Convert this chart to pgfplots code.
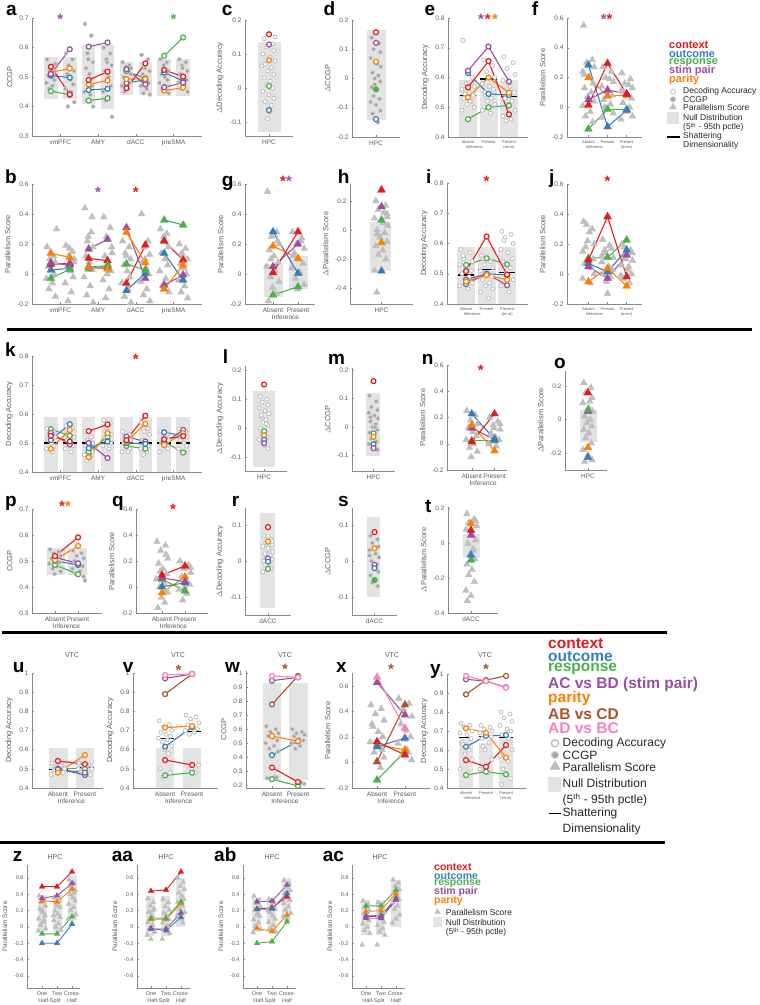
\documentclass[border=0pt]{standalone}
\usepackage{fontspec}
\setmainfont{Liberation Sans}
\setsansfont{Liberation Sans}
\usepackage{pgfplots}
\pgfplotsset{compat=1.18}
\definecolor{cR}{HTML}{E41A1C}
\definecolor{cB}{HTML}{377EB8}
\definecolor{cG}{HTML}{4DAF4A}
\definecolor{cP}{HTML}{984EA3}
\definecolor{cO}{HTML}{FF7F00}
\definecolor{cBr}{HTML}{A65628}
\definecolor{cPk}{HTML}{F781BF}
\definecolor{ngray}{HTML}{BEBEBE}
\definecolor{dgray}{HTML}{8C8C8C}
\definecolor{boxgray}{HTML}{E3E3E3}
\definecolor{axgray}{HTML}{8A8A8A}
\definecolor{lbgray}{HTML}{5A5A5A}

\pgfplotsset{
  pan/.style={scale only axis, anchor=south west, clip=false, axis lines*=left,
    axis line style={axgray, line width=0.6pt}, tick style={axgray, line width=0.5pt},
    tick align=inside, major tick length=2pt,
    tick label style={font=\fontsize{6.5}{7}\selectfont, text=lbgray},
    ylabel style={font=\fontsize{7.5}{8}\selectfont, text=lbgray},
    /pgf/number format/assume math mode=true,
    yticklabel style={/pgf/number format/fixed, /pgf/number format/precision=2},
    unbounded coords=jump},
  small/.style={tick label style={font=\fontsize{5.5}{6}\selectfont, text=lbgray},
    ylabel style={font=\fontsize{6.5}{7}\selectfont, text=lbgray}},
  tiny/.style={xticklabel style={font=\fontsize{4}{4}\selectfont, text=lbgray}},
  ring/.style={line width=1.1pt, mark=*, mark size=2.5pt, mark options={fill=white, line width=1.2pt}},
  tri/.style={line width=1.1pt, mark=triangle*, mark size=4.6pt, mark options={line width=0.2pt}},
  stri/.style={line width=0.9pt, mark=triangle*, mark size=3.3pt, mark options={line width=0.2pt}},
  nc/.style={only marks, mark=*, mark size=2pt, mark options={draw=ngray, fill=white, line width=0.8pt}},
  nd/.style={only marks, mark=*, mark size=2pt, mark options={draw=ngray!70, fill=dgray!80, line width=0.7pt}},
  nt/.style={only marks, mark=triangle*, mark size=4pt, mark options={draw=ngray, fill=ngray, line width=0.2pt}},
  snt/.style={only marks, mark=triangle*, mark size=3pt, mark options={draw=ngray, fill=ngray, line width=0.2pt}},
  nbox/.style={fill=boxgray, draw=none},
  shat/.style={black, line width=1.1pt},
}
\newcommand{\Nb}[4]{\addplot[nbox] coordinates {(#1,#3)(#2,#3)(#2,#4)(#1,#4)};}
\newcommand{\Sh}[3]{\addplot[shat] coordinates {(#1,#3)(#2,#3)};}
\newcommand{\Star}[3]{\node[text=#1, font=\bfseries\fontsize{15}{15}\selectfont, inner sep=0pt, yshift=-3pt] at (axis cs:#2,#3) {*};}
\newcommand{\SecL}[3]{\node[anchor=north, font=\fontsize{6.5}{7}\selectfont, text=lbgray, inner sep=0pt, yshift=-11pt] at (axis cs:#1,#2) {#3};}
\newcommand{\TinyL}[3]{\node[anchor=north, font=\fontsize{4}{4}\selectfont, text=lbgray, inner sep=0pt, yshift=-8pt] at (axis cs:#1,#2) {#3};}
\newcommand{\SmL}[3]{\node[anchor=north, font=\fontsize{5.5}{6}\selectfont, text=lbgray, inner sep=0pt, yshift=-10pt] at (axis cs:#1,#2) {#3};}

\begin{document}
\begin{tikzpicture}
\path[use as bounding box] (0,0) rectangle (760pt,-1005pt);

%% ---------------- a ----------------
\begin{axis}[pan, at={(32pt,-136pt)}, width=170pt, height=118pt,
  xmin=0.25, xmax=4.75, ymin=0.3, ymax=0.7, ytick={0.3,0.4,0.5,0.6,0.7},
  xtick={1,2,3,4}, xticklabels={vmPFC,AMY,dACC,preSMA}, ylabel={CCGP}]
\Nb{0.57}{0.93}{0.424}{0.569}\Nb{1.07}{1.43}{0.424}{0.569}
\Nb{1.57}{1.93}{0.41}{0.608}\Nb{2.07}{2.43}{0.39}{0.608}
\Nb{2.57}{2.93}{0.439}{0.552}\Nb{3.07}{3.43}{0.439}{0.552}
\Nb{3.57}{3.93}{0.436}{0.56}\Nb{4.07}{4.43}{0.436}{0.56}
\addplot[nd] coordinates {
(0.65,0.56)(0.82,0.54)(0.72,0.53)(0.86,0.52)(0.68,0.505)(0.77,0.50)(0.84,0.49)(0.63,0.48)(0.79,0.47)(0.70,0.46)(0.87,0.545)(0.74,0.515)
(1.15,0.58)(1.32,0.56)(1.22,0.54)(1.36,0.52)(1.18,0.51)(1.27,0.49)(1.34,0.475)(1.13,0.46)(1.29,0.45)(1.20,0.40)(1.37,0.415)(1.24,0.53)
(1.65,0.68)(1.82,0.64)(1.72,0.58)(1.86,0.55)(1.68,0.53)(1.77,0.51)(1.84,0.47)(1.63,0.45)(1.79,0.44)(1.70,0.42)(1.87,0.40)(1.74,0.56)
(2.15,0.60)(2.32,0.58)(2.22,0.56)(2.36,0.54)(2.18,0.52)(2.27,0.50)(2.34,0.47)(2.13,0.45)(2.29,0.43)(2.20,0.42)(2.37,0.365)(2.24,0.55)
(2.65,0.55)(2.82,0.54)(2.72,0.52)(2.86,0.51)(2.68,0.50)(2.77,0.49)(2.84,0.48)(2.63,0.47)(2.79,0.46)(2.70,0.45)(2.87,0.53)(2.74,0.535)
(3.15,0.575)(3.32,0.56)(3.22,0.54)(3.36,0.52)(3.18,0.51)(3.27,0.50)(3.34,0.48)(3.13,0.47)(3.29,0.46)(3.20,0.445)(3.37,0.44)(3.24,0.53)
(3.65,0.56)(3.82,0.55)(3.72,0.53)(3.86,0.52)(3.68,0.51)(3.77,0.50)(3.84,0.49)(3.63,0.48)(3.79,0.47)(3.70,0.46)(3.87,0.445)(3.74,0.54)
(4.15,0.56)(4.32,0.55)(4.22,0.54)(4.36,0.52)(4.18,0.51)(4.27,0.50)(4.34,0.49)(4.13,0.48)(4.29,0.47)(4.20,0.46)(4.37,0.45)(4.24,0.53)};
\addplot[cG, ring] coordinates {(0.75,0.452)(1.25,0.44)(1.5,nan)(1.75,0.42)(2.25,0.428)(2.5,nan)(2.75,0.52)(3.25,0.495)(3.5,nan)(3.75,0.572)(4.25,0.634)};
\addplot[cB, ring] coordinates {(0.75,0.505)(1.25,0.498)(1.5,nan)(1.75,0.456)(2.25,0.46)(2.5,nan)(2.75,0.48)(3.25,0.49)(3.5,nan)(3.75,0.515)(4.25,0.487)};
\addplot[cO, ring] coordinates {(0.75,0.515)(1.25,0.529)(1.5,nan)(1.75,0.475)(2.25,0.488)(2.5,nan)(2.75,0.493)(3.25,0.493)(3.5,nan)(3.75,0.454)(4.25,0.464)};
\addplot[cR, ring] coordinates {(0.75,0.535)(1.25,0.441)(1.5,nan)(1.75,0.49)(2.25,0.518)(2.5,nan)(2.75,0.462)(3.25,0.546)(3.5,nan)(3.75,0.524)(4.25,0.501)};
\addplot[cP, ring] coordinates {(0.75,0.51)(1.25,0.594)(1.5,nan)(1.75,0.603)(2.25,0.617)(2.5,nan)(2.75,0.526)(3.25,0.475)(3.5,nan)(3.75,0.465)(4.25,0.481)};
\Star{cP}{1}{0.705}\Star{cG}{4}{0.705}
\end{axis}

%% ---------------- c ----------------
\begin{axis}[pan, at={(245pt,-136pt)}, width=48pt, height=116pt,
  xmin=0, xmax=2, ymin=-0.141, ymax=0.2, ytick={-0.1,0,0.1,0.2},
  xtick={1}, xticklabels={HPC}, ylabel={$\Delta$Decoding Accuracy}]
\Nb{0.55}{1.5}{-0.128}{0.136}
\addplot[nc] coordinates {(0.8,0.145)(1.15,0.13)(0.9,0.12)(1.2,0.11)(0.75,0.1)(1.05,0.09)(1.25,0.08)(0.85,0.07)(1.1,0.06)(0.95,0.05)(1.2,0.04)(0.8,0.03)(1.05,0.02)(0.9,0.01)(1.15,0.0)(0.75,-0.01)(1.0,-0.02)(1.2,-0.03)(0.85,-0.04)(1.1,-0.05)(1.05,-0.07)(0.95,-0.09)(1.25,0.15)(0.7,0.065)};
\addplot[cR, ring, only marks] coordinates {(1,0.158)};
\addplot[cP, ring, only marks] coordinates {(1,0.128)};
\addplot[cO, ring, only marks] coordinates {(1,0.082)};
\addplot[cG, ring, only marks] coordinates {(1,0.006)};
\addplot[cB, ring, only marks] coordinates {(1,-0.065)};
\end{axis}

%% ---------------- d ----------------
\begin{axis}[pan, at={(352pt,-137pt)}, width=48pt, height=117pt,
  xmin=0, xmax=2, ymin=-0.2, ymax=0.2, ytick={-0.2,-0.1,0,0.1,0.2},
  xtick={1}, xticklabels={HPC}, ylabel={$\Delta$CCGP}]
\Nb{0.625}{1.42}{-0.142}{0.166}
\addplot[nd] coordinates {(0.82,0.14)(1.13,0.12)(0.9,0.1)(1.18,0.09)(0.78,0.07)(1.05,0.05)(1.2,0.04)(0.86,0.02)(1.1,0.01)(0.95,0.0)(1.17,-0.01)(0.82,-0.03)(1.04,-0.04)(0.9,-0.06)(1.14,-0.07)(0.78,-0.08)(1.0,-0.09)(1.18,-0.11)(0.86,-0.12)(1.08,-0.15)(1.03,0.06)(0.95,-0.02)};
\addplot[cR, ring, only marks] coordinates {(1,0.158)};
\addplot[cP, ring, only marks] coordinates {(1,0.122)};
\addplot[cO, ring, only marks] coordinates {(1,0.057)};
\addplot[cG, ring, only marks, mark options={fill=cG}] coordinates {(1,-0.037)};
\addplot[cB, ring, only marks] coordinates {(1,-0.139)};
\end{axis}

%% ---------------- e ----------------
\begin{axis}[pan, tiny, at={(448pt,-137pt)}, width=80pt, height=119pt,
  xmin=0.02, xmax=3.93, ymin=0.4, ymax=0.8, ytick={0.4,0.5,0.6,0.7,0.8},
  xtick={1,2,3}, xticklabels={Absent,Present,Present}, ylabel={Decoding Accuracy}]
\Nb{0.56}{1.44}{0.4}{0.592}\Nb{1.56}{2.44}{0.4}{0.595}\Nb{2.56}{3.44}{0.4}{0.592}
\addplot[nc] coordinates {
(0.75,0.725)(1.2,0.6)(0.9,0.58)(1.3,0.57)(0.7,0.56)(1.05,0.55)(1.25,0.54)(0.8,0.53)(1.15,0.52)(0.95,0.51)(1.3,0.5)(0.7,0.49)(1.1,0.52)(0.85,0.545)
(1.75,0.66)(2.2,0.64)(1.9,0.62)(2.3,0.6)(1.7,0.58)(2.05,0.57)(2.25,0.56)(1.8,0.55)(2.15,0.53)(1.95,0.52)(2.3,0.51)(1.7,0.49)(2.1,0.48)(1.85,0.54)
(2.75,0.67)(3.2,0.65)(2.9,0.63)(3.3,0.61)(2.7,0.59)(3.05,0.57)(3.25,0.55)(2.8,0.53)(3.15,0.52)(2.95,0.51)(3.3,0.49)(2.7,0.47)(3.1,0.46)(2.85,0.455)};
\Sh{0.6}{1.4}{0.541}\Sh{1.6}{2.4}{0.595}\Sh{2.6}{3.4}{0.535}
\addplot[cG, ring] coordinates {(1,0.46)(2,0.5)(3,0.506)};
\addplot[cB, ring] coordinates {(1,0.615)(2,0.545)(3,0.541)};
\addplot[cO, ring] coordinates {(1,0.533)(2,0.6)(3,0.549)};
\addplot[cR, ring] coordinates {(1,0.567)(2,0.655)(3,0.476)};
\addplot[cP, ring] coordinates {(1,0.623)(2,0.704)(3,0.586)};
\Star{cP}{1.63}{0.806}\Star{cR}{1.97}{0.806}\Star{cO}{2.32}{0.806}
\TinyL{1.3}{0.4}{Inference}\TinyL{3}{0.4}{(error)}
\end{axis}

%% ---------------- f ----------------
\begin{axis}[pan, tiny, at={(567pt,-137pt)}, width=75pt, height=119pt,
  xmin=-0.12, xmax=3.8, ymin=-0.2, ymax=0.6, ytick={-0.2,0,0.2,0.4,0.6},
  xtick={1,2,3}, xticklabels={Absent,Present,Present}, ylabel={Parallelism Score}]
\addplot[nt] coordinates {
(0.75,0.55)(1.2,0.32)(0.9,0.3)(1.3,0.27)(0.7,0.24)(1.05,0.2)(1.25,0.16)(0.8,0.13)(1.15,0.1)(0.95,0.07)(1.3,0.04)(0.7,0.01)(1.1,-0.03)(0.85,-0.06)(1.22,-0.1)(0.78,0.22)
(1.75,0.27)(2.2,0.24)(1.9,0.2)(2.3,0.17)(1.7,0.14)(2.05,0.11)(2.25,0.08)(1.8,0.05)(2.15,0.02)(1.95,-0.01)(2.3,-0.04)(1.7,-0.07)(2.1,0.19)(1.85,0.0)
(2.75,0.23)(3.2,0.19)(2.9,0.16)(3.3,0.13)(2.7,0.11)(3.05,0.08)(3.25,0.06)(2.8,0.03)(3.15,0.0)(2.95,-0.03)(3.3,-0.06)(2.7,-0.08)(3.1,0.15)(2.85,0.1)};
\addplot[cG, tri] coordinates {(1,-0.146)(2,-0.014)(3,-0.015)};
\addplot[cB, tri] coordinates {(1,0.284)(2,-0.131)(3,-0.02)};
\addplot[cO, tri] coordinates {(1,0.199)(2,0.076)(3,0.08)};
\addplot[cP, tri] coordinates {(1,0.051)(2,0.116)(3,0.089)};
\addplot[cR, tri] coordinates {(1,0.015)(2,0.295)(3,0.089)};
\Star{cP}{1.8}{0.613}\Star{cR}{2.1}{0.613}
\TinyL{1.3}{-0.2}{Inference}\TinyL{3}{-0.2}{(error)}
\end{axis}

%% ---------------- b ----------------
\begin{axis}[pan, at={(32pt,-304pt)}, width=170pt, height=120pt,
  xmin=0.25, xmax=4.75, ymin=-0.2, ymax=0.6, ytick={-0.2,0,0.2,0.4,0.6},
  xtick={1,2,3,4}, xticklabels={vmPFC,AMY,dACC,preSMA}, ylabel={Parallelism Score}]
\addplot[nt] coordinates {
(0.65,0.18)(0.82,0.12)(0.72,0.10)(0.86,0.08)(0.68,0.05)(0.77,0.03)(0.84,0.0)(0.63,-0.03)(0.79,-0.06)(0.70,-0.10)(0.87,-0.15)(0.74,0.14)(0.9,0.3)
(1.15,0.19)(1.32,0.15)(1.22,0.12)(1.36,0.08)(1.18,0.05)(1.27,0.02)(1.34,-0.02)(1.13,-0.06)(1.29,-0.12)(1.20,-0.18)(1.37,0.10)(1.24,0.17)
(1.65,0.44)(1.82,0.28)(1.72,0.22)(1.86,0.18)(1.68,0.12)(1.77,0.08)(1.84,0.03)(1.63,-0.02)(1.79,-0.08)(1.70,-0.14)(1.87,-0.19)(1.74,0.25)(1.84,0.38)
(2.15,0.38)(2.32,0.31)(2.22,0.25)(2.36,0.18)(2.18,0.12)(2.27,0.06)(2.34,0.02)(2.13,-0.04)(2.29,-0.10)(2.20,-0.16)(2.37,0.14)(2.24,0.0)
(2.65,0.22)(2.82,0.18)(2.72,0.14)(2.86,0.10)(2.68,0.06)(2.77,0.02)(2.84,-0.02)(2.63,-0.06)(2.79,-0.10)(2.70,-0.15)(2.87,-0.19)(2.74,0.12)
(3.15,0.40)(3.32,0.22)(3.22,0.18)(3.36,0.13)(3.18,0.08)(3.27,0.04)(3.34,0.0)(3.13,-0.05)(3.29,-0.10)(3.20,-0.14)(3.37,-0.18)(3.24,0.10)
(3.65,0.30)(3.82,0.27)(3.72,0.22)(3.86,0.18)(3.68,0.14)(3.77,0.10)(3.84,0.06)(3.63,0.02)(3.79,-0.03)(3.70,-0.08)(3.87,-0.12)(3.74,0.25)
(4.15,0.20)(4.32,0.17)(4.22,0.14)(4.36,0.10)(4.18,0.07)(4.27,0.04)(4.34,0.0)(4.13,-0.04)(4.29,-0.08)(4.20,-0.12)(4.37,-0.16)(4.24,0.12)};
\addplot[cB, tri] coordinates {(0.75,0.027)(1.25,0.038)(1.5,nan)(1.75,0.05)(2.25,0.045)(2.5,nan)(2.75,-0.11)(3.25,0.005)(3.5,nan)(3.75,0.138)(4.25,-0.04)};
\addplot[cR, tri] coordinates {(0.75,0.065)(1.25,0.07)(1.5,nan)(1.75,0.104)(2.25,0.089)(2.5,nan)(2.75,-0.062)(3.25,0.193)(3.5,nan)(3.75,0.22)(4.25,0.093)};
\addplot[cP, tri] coordinates {(0.75,0.075)(1.25,0.06)(1.5,nan)(1.75,0.167)(2.25,0.231)(2.5,nan)(2.75,0.309)(3.25,-0.029)(3.5,nan)(3.75,-0.073)(4.25,-0.007)};
\addplot[cG, tri] coordinates {(0.75,-0.029)(1.25,0.031)(1.5,nan)(1.75,0.033)(2.25,0.06)(2.5,nan)(2.75,0.067)(3.25,0.027)(3.5,nan)(3.75,0.36)(4.25,0.327)};
\addplot[cO, tri] coordinates {(0.75,0.138)(1.25,0.111)(1.5,nan)(1.75,0.044)(2.25,0.033)(2.5,nan)(2.75,0.278)(3.25,0.075)(3.5,nan)(3.75,-0.1)(4.25,0.06)};
\Star{cP}{2}{0.567}\Star{cR}{3}{0.567}
\end{axis}

%% ---------------- g ----------------
\begin{axis}[pan, at={(245pt,-304pt)}, width=70pt, height=120pt,
  xmin=-0.12, xmax=2.68, ymin=-0.2, ymax=0.6, ytick={-0.2,0,0.2,0.4,0.6},
  xtick={1,2}, xticklabels={Absent,Present}, ylabel={Parallelism Score}]
\Nb{0.62}{1.38}{-0.15}{0.07}\Nb{1.62}{2.38}{-0.1}{0.12}
\addplot[nt] coordinates {
(0.78,0.55)(1.15,0.28)(0.94,0.25)(1.25,0.2)(0.85,0.16)(1.04,0.12)(1.2,0.08)(0.75,0.05)(1.08,0.02)(0.9,-0.02)(1.24,-0.05)(0.98,-0.09)(1.12,-0.13)(0.82,-0.18)(1.18,0.22)(0.92,0.1)
(1.78,0.28)(2.15,0.24)(1.94,0.2)(2.25,0.17)(1.85,0.14)(2.04,0.1)(2.2,0.07)(1.75,0.04)(2.08,0.01)(1.9,-0.03)(2.24,-0.07)(1.98,-0.1)(2.12,0.22)(1.82,0.12)};
\addplot[cB, tri] coordinates {(1,0.282)(2,0.005)};
\addplot[cO, tri] coordinates {(1,0.187)(2,0.104)};
\addplot[cP, tri] coordinates {(1,0.049)(2,0.2)};
\addplot[cR, tri] coordinates {(1,0.009)(2,0.282)};
\addplot[cG, tri] coordinates {(1,-0.14)(2,-0.085)};
\Star{cR}{1.4}{0.64}\Star{cP}{1.64}{0.64}
\SecL{1.5}{-0.2}{Inference}
\end{axis}

%% ---------------- h ----------------
\begin{axis}[pan, at={(350pt,-304pt)}, width=63pt, height=120pt,
  xmin=0, xmax=2, ymin=-0.51, ymax=0.317, ytick={-0.4,-0.2,0,0.2},
  xtick={1}, xticklabels={HPC}, ylabel={$\Delta$Parallelism Score}]
\Nb{0.63}{1.3}{-0.28}{0.057}
\addplot[nt] coordinates {(0.82,0.2)(1.13,0.17)(0.9,0.14)(1.18,0.11)(0.78,0.08)(1.05,0.05)(1.2,0.03)(0.86,0.0)(1.1,-0.02)(0.95,-0.05)(1.17,-0.08)(0.82,-0.11)(1.04,-0.14)(0.9,-0.17)(1.14,-0.2)(0.78,-0.28)(0.85,-0.43)(1.18,0.09)(0.86,-0.03)(1.08,0.12)};
\addplot[cR, tri, only marks] coordinates {(1,0.276)};
\addplot[cP, tri, only marks] coordinates {(1,0.161)};
\addplot[cG, tri, only marks] coordinates {(1,0.069)};
\addplot[cO, tri, only marks] coordinates {(1,-0.088)};
\addplot[cB, tri, only marks] coordinates {(1,-0.283)};
\end{axis}

%% ---------------- i ----------------
\begin{axis}[pan, tiny, at={(447pt,-304pt)}, width=81pt, height=121pt,
  xmin=0.07, xmax=4.02, ymin=0.4, ymax=0.8, ytick={0.4,0.5,0.6,0.7,0.8},
  xtick={1,2,3}, xticklabels={Absent,Present,Present}, ylabel={Decoding Accuracy}]
\Nb{0.56}{1.44}{0.4}{0.587}\Nb{1.56}{2.44}{0.4}{0.587}\Nb{2.56}{3.44}{0.4}{0.587}
\addplot[nc] coordinates {
(0.75,0.58)(1.2,0.57)(0.9,0.55)(1.3,0.54)(0.7,0.53)(1.05,0.52)(1.25,0.51)(0.8,0.5)(1.15,0.49)(0.95,0.48)(1.3,0.47)(0.7,0.46)(1.1,0.45)(0.85,0.56)
(1.75,0.56)(2.2,0.54)(1.9,0.53)(2.3,0.52)(1.7,0.51)(2.05,0.5)(2.25,0.49)(1.8,0.48)(2.15,0.47)(1.95,0.46)(2.3,0.45)(1.7,0.44)(2.1,0.42)(1.85,0.55)
(2.75,0.64)(3.2,0.63)(2.9,0.62)(3.3,0.6)(2.7,0.58)(3.05,0.57)(3.25,0.55)(2.8,0.54)(3.15,0.52)(2.95,0.5)(3.3,0.48)(2.7,0.46)(3.1,0.44)(2.85,0.61)};
\Sh{0.6}{1.4}{0.496}\Sh{1.6}{2.4}{0.515}\Sh{2.6}{3.4}{0.505}
\addplot[cP, ring] coordinates {(1,0.48)(2,0.5)(3,0.462)};
\addplot[cB, ring] coordinates {(1,0.466)(2,0.5)(3,0.496)};
\addplot[cO, ring] coordinates {(1,0.474)(2,0.496)(3,0.48)};
\addplot[cG, ring] coordinates {(1,0.529)(2,0.551)(3,0.531)};
\addplot[cR, ring] coordinates {(1,0.509)(2,0.623)(3,0.497)};
\Star{cR}{2}{0.815}
\TinyL{1.3}{0.4}{Inference}\TinyL{3}{0.4}{(error)}
\end{axis}

%% ---------------- j ----------------
\begin{axis}[pan, tiny, at={(567pt,-304pt)}, width=75pt, height=120pt,
  xmin=-0.12, xmax=3.8, ymin=-0.2, ymax=0.6, ytick={-0.2,0,0.2,0.4,0.6},
  xtick={1,2,3}, xticklabels={Absent,Present,Present}, ylabel={Parallelism Score}]
\addplot[nt] coordinates {
(0.75,0.35)(1.2,0.3)(0.9,0.33)(1.3,0.2)(0.7,0.15)(1.05,0.28)(1.25,0.1)(0.8,0.07)(1.15,0.04)(0.95,0.22)(1.3,0.0)(0.7,-0.03)(1.1,-0.06)(0.85,0.18)
(1.75,0.23)(2.2,0.17)(1.9,0.14)(2.3,0.11)(1.7,0.08)(2.05,0.05)(2.25,0.03)(1.8,0.0)(2.15,-0.02)(1.95,-0.05)(2.0,-0.13)(1.7,0.12)(2.1,0.19)(1.85,0.16)
(2.75,0.2)(3.2,0.16)(2.9,0.12)(3.3,0.09)(2.7,0.06)(3.05,0.03)(3.25,0.0)(2.8,-0.03)(3.15,-0.06)(2.95,0.1)(3.3,0.14)(2.7,-0.01)(3.1,0.05)(2.85,0.18)};
\addplot[cB, tri] coordinates {(1,0.071)(2,0.015)(3,0.16)};
\addplot[cP, tri] coordinates {(1,0.049)(2,-0.029)(3,0.127)};
\addplot[cG, tri] coordinates {(1,0.105)(2,0.111)(3,0.227)};
\addplot[cO, tri] coordinates {(1,-0.051)(2,0.038)(3,-0.08)};
\addplot[cR, tri] coordinates {(1,0.093)(2,0.382)(3,-0.018)};
\Star{cR}{2}{0.638}
\TinyL{1.3}{-0.2}{Inference}\TinyL{3}{-0.2}{(error)}
\end{axis}

%% ---------------- k ----------------
\begin{axis}[pan, at={(32pt,-472pt)}, width=170pt, height=116pt,
  xmin=0.25, xmax=4.75, ymin=0.4, ymax=0.8, ytick={0.4,0.5,0.6,0.7,0.8},
  xtick={1,2,3,4}, xticklabels={vmPFC,AMY,dACC,preSMA}, ylabel={Decoding Accuracy}]
\Nb{0.57}{0.93}{0.4}{0.59}\Nb{1.07}{1.43}{0.4}{0.59}\Nb{1.57}{1.93}{0.4}{0.59}\Nb{2.07}{2.43}{0.4}{0.59}
\Nb{2.57}{2.93}{0.4}{0.59}\Nb{3.07}{3.43}{0.4}{0.59}\Nb{3.57}{3.93}{0.4}{0.59}\Nb{4.07}{4.43}{0.4}{0.59}
\addplot[nc] coordinates {
(0.65,0.55)(0.82,0.54)(0.72,0.53)(0.86,0.52)(0.68,0.51)(0.77,0.5)(0.84,0.49)(0.63,0.48)(0.79,0.47)(0.70,0.53)
(1.15,0.56)(1.32,0.55)(1.22,0.53)(1.36,0.52)(1.18,0.51)(1.27,0.5)(1.34,0.49)(1.13,0.48)(1.29,0.47)(1.20,0.52)
(1.65,0.54)(1.82,0.52)(1.72,0.51)(1.86,0.5)(1.68,0.49)(1.77,0.48)(1.84,0.47)(1.63,0.46)(1.79,0.45)(1.70,0.44)
(2.15,0.58)(2.32,0.57)(2.22,0.55)(2.36,0.53)(2.18,0.52)(2.27,0.51)(2.34,0.5)(2.13,0.49)(2.29,0.48)(2.20,0.54)
(2.65,0.54)(2.82,0.53)(2.72,0.52)(2.86,0.51)(2.68,0.5)(2.77,0.49)(2.84,0.48)(2.63,0.47)(2.79,0.47)(2.70,0.52)
(3.15,0.57)(3.32,0.55)(3.22,0.54)(3.36,0.53)(3.18,0.51)(3.27,0.5)(3.34,0.49)(3.13,0.48)(3.29,0.47)(3.20,0.46)
(3.65,0.54)(3.82,0.53)(3.72,0.52)(3.86,0.51)(3.68,0.5)(3.77,0.49)(3.84,0.48)(3.63,0.47)(3.79,0.52)(3.70,0.5)
(4.15,0.55)(4.32,0.54)(4.22,0.53)(4.36,0.52)(4.18,0.51)(4.27,0.5)(4.34,0.49)(4.13,0.48)(4.29,0.47)(4.20,0.52)};
\Sh{0.57}{0.93}{0.5}\Sh{1.07}{1.43}{0.5}\Sh{1.57}{1.93}{0.5}\Sh{2.07}{2.43}{0.5}
\Sh{2.57}{2.93}{0.5}\Sh{3.07}{3.43}{0.5}\Sh{3.57}{3.93}{0.5}\Sh{4.07}{4.43}{0.5}
\addplot[cG, ring] coordinates {(0.75,0.548)(1.25,0.525)(1.5,nan)(1.75,0.47)(2.25,0.522)(2.5,nan)(2.75,0.49)(3.25,0.48)(3.5,nan)(3.75,0.505)(4.25,0.467)};
\addplot[cP, ring] coordinates {(0.75,0.535)(1.25,0.495)(1.5,nan)(1.75,0.5)(2.25,0.448)(2.5,nan)(2.75,0.522)(3.25,0.505)(3.5,nan)(3.75,0.5)(4.25,0.545)};
\addplot[cB, ring] coordinates {(0.75,0.51)(1.25,0.565)(1.5,nan)(1.75,0.482)(2.25,0.505)(2.5,nan)(2.75,0.5)(3.25,0.497)(3.5,nan)(3.75,0.537)(4.25,0.525)};
\addplot[cO, ring] coordinates {(0.75,0.48)(1.25,0.545)(1.5,nan)(1.75,0.451)(2.25,0.534)(2.5,nan)(2.75,0.505)(3.25,0.566)(3.5,nan)(3.75,0.493)(4.25,0.534)};
\addplot[cR, ring] coordinates {(0.75,0.525)(1.25,0.505)(1.5,nan)(1.75,0.541)(2.25,0.564)(2.5,nan)(2.75,0.51)(3.25,0.594)(3.5,nan)(3.75,0.513)(4.25,0.524)};
\Star{cR}{3}{0.8}
\end{axis}

%% ---------------- l ----------------
\begin{axis}[pan, at={(245pt,-471pt)}, width=42pt, height=105pt,
  xmin=0, xmax=2.2, ymin=-0.148, ymax=0.215, ytick={-0.1,0,0.1,0.2},
  xtick={1}, xticklabels={HPC}, ylabel={$\Delta$Decoding Accuracy}]
\Nb{0.42}{1.57}{-0.135}{0.13}
\addplot[nc] coordinates {(0.8,0.11)(1.15,0.1)(0.9,0.09)(1.2,0.08)(0.75,0.07)(1.05,0.06)(1.25,0.05)(0.85,0.04)(1.1,0.03)(0.95,0.02)(1.2,0.01)(0.8,0.0)(1.05,-0.01)(0.9,-0.02)(1.15,-0.03)(0.75,-0.04)(1.0,-0.06)(1.2,-0.07)(0.85,0.045)(1.1,0.015)};
\addplot[cR, ring, only marks] coordinates {(1,0.151)};
\addplot[cG, ring, only marks] coordinates {(1,-0.01)};
\addplot[cO, ring, only marks] coordinates {(1,-0.025)};
\addplot[cB, ring, only marks] coordinates {(1,-0.04)};
\addplot[cP, ring, only marks] coordinates {(1,-0.052)};
\end{axis}

%% ---------------- m ----------------
\begin{axis}[pan, at={(352pt,-471pt)}, width=43pt, height=103pt,
  xmin=0, xmax=2, ymin=-0.154, ymax=0.207, ytick={-0.1,0,0.1,0.2},
  xtick={1}, xticklabels={HPC}, ylabel={$\Delta$CCGP}]
\Nb{0.65}{1.3}{-0.1}{0.12}
\addplot[nd] coordinates {(0.82,0.11)(1.13,0.09)(0.9,0.07)(1.18,0.06)(0.78,0.05)(1.05,0.04)(1.2,0.03)(0.86,0.02)(1.1,0.01)(0.95,0.0)(1.17,-0.01)(0.82,-0.02)(1.04,-0.03)(0.9,-0.04)(1.14,-0.05)(0.78,-0.06)(1.0,-0.07)(1.18,-0.08)(0.86,0.035)(1.08,0.0)};
\addplot[cR, ring, only marks] coordinates {(1,0.161)};
\addplot[cG, ring, only marks] coordinates {(1,-0.022)};
\addplot[cO, ring, only marks] coordinates {(1,-0.034)};
\addplot[cB, ring, only marks] coordinates {(1,-0.06)};
\addplot[cP, ring, only marks] coordinates {(1,-0.074)};
\end{axis}

%% ---------------- n ----------------
\begin{axis}[pan, at={(447pt,-470pt)}, width=60pt, height=105pt,
  xmin=-0.09, xmax=2.55, ymin=-0.2, ymax=0.6, ytick={-0.2,0,0.2,0.4,0.6},
  xtick={1,2}, xticklabels={Absent,Present}, ylabel={Parallelism Score}]
\addplot[nt] coordinates {
(0.78,0.25)(1.15,0.22)(0.94,0.18)(1.25,0.15)(0.85,0.12)(1.04,0.09)(1.2,0.06)(0.75,0.03)(1.08,0.0)(0.9,-0.03)(1.24,-0.06)(0.98,-0.1)
(1.78,0.2)(2.15,0.17)(1.94,0.14)(2.25,0.11)(1.85,0.08)(2.04,0.05)(2.2,0.03)(1.75,0.0)(2.08,-0.02)(1.9,0.06)(2.24,0.15)(1.98,0.12)};
\addplot[cG, tri] coordinates {(1,0.023)(2,0.023)};
\addplot[cP, tri] coordinates {(1,0.12)(2,0.031)};
\addplot[cO, tri] coordinates {(1,0.144)(2,-0.054)};
\addplot[cB, tri] coordinates {(1,0.228)(2,0.036)};
\addplot[cR, tri] coordinates {(1,0.015)(2,0.228)};
\Star{cR}{1.4}{0.58}
\SecL{1.5}{-0.2}{Inference}
\end{axis}

%% ---------------- o ----------------
\begin{axis}[pan, at={(565pt,-470pt)}, width=42pt, height=99pt,
  xmin=0, xmax=1.83, ymin=-0.3, ymax=0.29, ytick={-0.2,0,0.2},
  xtick={1}, xticklabels={HPC}, ylabel={$\Delta$Parallelism Score}]
\Nb{0.65}{1.39}{-0.136}{0.06}
\addplot[nt] coordinates {(0.82,0.22)(1.13,0.19)(0.9,0.16)(1.18,0.13)(0.78,0.1)(1.05,0.07)(1.2,0.05)(0.86,0.02)(1.1,0.0)(0.95,-0.02)(1.17,-0.04)(0.82,-0.06)(1.04,-0.08)(0.9,-0.11)(1.14,-0.14)(0.78,-0.18)(1.0,-0.21)(1.18,-0.24)(0.86,-0.25)(1.08,0.11)};
\addplot[cP, tri, only marks] coordinates {(1,0.05)};
\addplot[cR, tri, only marks] coordinates {(1,0.16)};
\addplot[cG, tri, only marks] coordinates {(1,0.058)};
\addplot[cO, tri, only marks] coordinates {(1,-0.166)};
\addplot[cB, tri, only marks] coordinates {(1,-0.225)};
\end{axis}

%% ---------------- p ----------------
\begin{axis}[pan, at={(32pt,-613pt)}, width=70pt, height=104pt,
  xmin=0, xmax=3.04, ymin=0.3, ymax=0.7, ytick={0.3,0.4,0.5,0.6,0.7},
  xtick={1,2}, xticklabels={Absent,Present}, ylabel={CCGP}]
\Nb{0.65}{1.43}{0.446}{0.549}\Nb{1.57}{2.39}{0.446}{0.549}
\addplot[nd] coordinates {
(0.78,0.545)(1.15,0.535)(0.94,0.53)(1.25,0.52)(0.85,0.51)(1.04,0.5)(1.2,0.495)(0.75,0.49)(1.08,0.48)(0.9,0.47)(1.24,0.46)(0.98,0.45)
(1.78,0.54)(2.15,0.53)(1.94,0.52)(2.25,0.51)(1.85,0.5)(2.04,0.49)(2.2,0.48)(1.75,0.47)(2.08,0.46)(1.9,0.45)(2.24,0.44)(2.3,0.425)};
\addplot[cG, ring] coordinates {(1,0.485)(2,0.449)};
\addplot[cB, ring] coordinates {(1,0.501)(2,0.485)};
\addplot[cP, ring] coordinates {(1,0.514)(2,0.491)};
\addplot[cO, ring] coordinates {(1,0.504)(2,0.558)};
\addplot[cR, ring] coordinates {(1,0.519)(2,0.591)};
\Star{cR}{1.3}{0.72}\Star{cO}{1.57}{0.72}
\SecL{1.5}{0.3}{Inference}
\end{axis}

%% ---------------- q ----------------
\begin{axis}[pan, at={(136pt,-613pt)}, width=72pt, height=104pt,
  xmin=-0.13, xmax=3.0, ymin=-0.2, ymax=0.6, ytick={-0.2,0,0.2,0.4,0.6},
  xtick={1,2}, xticklabels={Absent,Present}, ylabel={Parallelism Score}]
\addplot[nt] coordinates {
(0.78,0.35)(1.15,0.32)(0.94,0.28)(1.25,0.22)(0.85,0.18)(1.04,0.14)(1.2,0.1)(0.75,0.06)(1.08,0.03)(0.9,0.0)(1.24,-0.04)(0.98,-0.08)(1.12,-0.12)(0.82,-0.16)(1.18,0.25)(0.92,0.12)
(1.78,0.2)(2.15,0.17)(1.94,0.14)(2.25,0.11)(1.85,0.08)(2.04,0.05)(2.2,0.02)(1.75,-0.02)(2.08,-0.05)(1.9,-0.1)(2.24,0.15)(1.98,0.0)};
\addplot[cO, tri] coordinates {(1,-0.044)(2,0.079)};
\addplot[cB, tri] coordinates {(1,0.002)(2,0.033)};
\addplot[cG, tri] coordinates {(1,0.06)(2,-0.03)};
\addplot[cP, tri] coordinates {(1,0.07)(2,0.041)};
\addplot[cR, tri] coordinates {(1,0.092)(2,0.162)};
\Star{cR}{1.48}{0.62}
\SecL{1.5}{-0.2}{Inference}
\end{axis}

%% ---------------- r ----------------
\begin{axis}[pan, at={(245pt,-615pt)}, width=46pt, height=107pt,
  xmin=0, xmax=2, ymin=-0.15, ymax=0.147, ytick={-0.1,0,0.1},
  xtick={1}, xticklabels={dACC}, ylabel={$\Delta$Decoding Accuracy}]
\Nb{0.65}{1.3}{-0.13}{0.133}
\addplot[nc] coordinates {(0.82,0.07)(1.13,0.06)(0.9,0.05)(1.18,0.045)(0.78,0.04)(1.05,0.03)(1.2,0.025)(0.86,0.02)(1.1,0.015)(0.95,0.01)(1.17,0.005)(0.82,0.0)(1.04,-0.005)(0.9,-0.01)(1.14,-0.02)(0.78,-0.03)(1.0,0.035)(1.18,0.055)};
\addplot[cR, ring, only marks] coordinates {(1,0.094)};
\addplot[cO, ring, only marks] coordinates {(1,0.054)};
\addplot[cP, ring, only marks] coordinates {(1,0.007)};
\addplot[cB, ring, only marks] coordinates {(1,-0.002)};
\addplot[cG, ring, only marks] coordinates {(1,-0.022)};
\end{axis}

%% ---------------- s ----------------
\begin{axis}[pan, at={(352pt,-615pt)}, width=45pt, height=107pt,
  xmin=0, xmax=2, ymin=-0.15, ymax=0.147, ytick={-0.1,0,0.1},
  xtick={1}, xticklabels={dACC}, ylabel={$\Delta$CCGP}]
\Nb{0.67}{1.24}{-0.1}{0.121}
\addplot[nd] coordinates {(0.82,0.07)(1.13,0.06)(0.9,0.05)(1.18,0.04)(0.78,0.03)(1.05,0.02)(1.2,0.01)(0.86,0.0)(1.1,-0.01)(0.95,-0.02)(1.17,-0.03)(0.82,-0.04)(1.04,-0.05)(0.9,-0.06)(1.14,-0.07)(0.78,0.015)};
\addplot[cR, ring, only marks] coordinates {(1,0.08)};
\addplot[cO, ring, only marks] coordinates {(1,0.035)};
\addplot[cP, ring, only marks] coordinates {(1,-0.011)};
\addplot[cB, ring, only marks] coordinates {(1,-0.02)};
\addplot[cG, ring, only marks, mark options={fill=cG}] coordinates {(1,-0.053)};
\end{axis}

%% ---------------- t ----------------
\begin{axis}[pan, at={(448pt,-613pt)}, width=50pt, height=106pt,
  xmin=0, xmax=2.17, ymin=-0.4, ymax=0.21, ytick={-0.4,-0.2,0,0.2},
  xtick={1}, xticklabels={dACC}, ylabel={$\Delta$Parallelism Score}]
\Nb{0.65}{1.39}{-0.086}{0.057}
\addplot[nt] coordinates {(0.82,0.17)(1.13,0.14)(0.9,0.12)(1.25,0.1)(0.78,0.08)(1.05,0.05)(1.2,0.02)(0.86,0.0)(1.1,-0.03)(0.95,-0.06)(1.17,-0.09)(0.82,-0.12)(1.04,-0.15)(0.9,-0.18)(1.14,-0.22)(0.78,-0.27)(1.0,-0.3)(0.84,-0.33)(1.2,0.13)(1.08,-0.04)};
\addplot[cG, tri, only marks] coordinates {(1,-0.095)};
\addplot[cB, tri, only marks] coordinates {(1,-0.067)};
\addplot[cP, tri, only marks] coordinates {(1,0.047)};
\addplot[cR, tri, only marks] coordinates {(1,0.076)};
\addplot[cO, tri, only marks] coordinates {(1,0.114)};
\end{axis}

%% ---------------- u ----------------
\begin{axis}[pan, at={(32pt,-788pt)}, width=71pt, height=115pt,
  xmin=0.04, xmax=2.67, ymin=0.4, ymax=1, ytick={0.4,0.5,0.6,0.7,0.8,0.9,1},
  xtick={1,2}, xticklabels={Absent,Present}, ylabel={Decoding Accuracy}]
\Nb{0.67}{1.37}{0.4}{0.61}\Nb{1.67}{2.33}{0.4}{0.61}
\addplot[nc] coordinates {
(0.78,0.53)(1.15,0.52)(0.94,0.51)(1.25,0.5)(0.85,0.5)(1.04,0.49)(1.2,0.48)(0.75,0.47)(1.08,0.515)(0.9,0.495)
(1.78,0.53)(2.15,0.52)(1.94,0.51)(2.25,0.5)(1.85,0.49)(2.04,0.48)(2.2,0.47)(1.75,0.5)(2.08,0.515)(1.9,0.485)};
\Sh{0.67}{1.37}{0.497}\Sh{1.67}{2.33}{0.507}
\addplot[cG, ring] coordinates {(1,0.5)(2,0.5)};
\addplot[cB, ring] coordinates {(1,0.5)(2,0.468)};
\addplot[cP, ring] coordinates {(1,0.497)(2,0.48)};
\addplot[cO, ring] coordinates {(1,0.48)(2,0.572)};
\addplot[cR, ring] coordinates {(1,0.541)(2,0.524)};
\SecL{1.5}{0.4}{Inference}
\end{axis}

%% ---------------- v ----------------
\begin{axis}[pan, at={(133pt,-788pt)}, width=85pt, height=115pt,
  xmin=-0.19, xmax=2.96, ymin=0.4, ymax=1, ytick={0.4,0.5,0.6,0.7,0.8,0.9,1},
  xtick={1,2}, xticklabels={Absent,Present}, ylabel={Decoding Accuracy}]
\Nb{0.67}{1.33}{0.4}{0.61}\Nb{1.67}{2.33}{0.4}{0.61}
\addplot[nc] coordinates {
(0.78,0.75)(1.15,0.73)(0.94,0.72)(1.25,0.7)(0.85,0.69)(1.04,0.68)(1.2,0.67)(0.75,0.66)(1.08,0.65)(0.9,0.64)(1.24,0.62)(0.98,0.6)(1.12,0.58)(0.82,0.5)(1.18,0.48)(0.92,0.46)
(1.78,0.78)(2.15,0.77)(1.94,0.76)(2.25,0.74)(1.85,0.73)(2.04,0.72)(2.2,0.71)(1.75,0.7)(2.08,0.69)(1.9,0.68)(2.24,0.52)(1.98,0.5)(2.12,0.48)};
\Sh{0.67}{1.33}{0.659}\Sh{1.67}{2.33}{0.694}
\addplot[cG, ring] coordinates {(1,0.466)(2,0.48)};
\addplot[cR, ring] coordinates {(1,0.546)(2,0.52)};
\addplot[cB, ring] coordinates {(1,0.616)(2,0.718)};
\addplot[cO, ring] coordinates {(1,0.715)(2,0.723)};
\addplot[cBr, ring] coordinates {(1,0.89)(2,0.995)};
\addplot[cP, ring] coordinates {(1,0.972)(2,0.995)};
\addplot[cPk, ring] coordinates {(1,0.99)(2,0.995)};
\Star{cBr}{1.5}{1.03}
\SecL{1.5}{0.4}{Inference}
\end{axis}

%% ---------------- w ----------------
\begin{axis}[pan, at={(246pt,-788pt)}, width=79pt, height=117pt,
  xmin=0, xmax=3.04, ymin=0.18, ymax=1.014, ytick={0.2,0.3,0.4,0.5,0.6,0.7,0.8,0.9,1},
  xtick={1,2}, xticklabels={Absent,Present}, ylabel={CCGP}]
\Nb{0.65}{1.35}{0.236}{0.931}\Nb{1.65}{2.38}{0.236}{0.931}
\addplot[nd] coordinates {
(0.78,0.62)(1.15,0.6)(0.94,0.58)(1.25,0.57)(0.85,0.55)(1.04,0.54)(1.2,0.52)(0.75,0.5)(1.08,0.48)(0.9,0.46)(1.24,0.44)(0.98,0.42)(1.12,0.26)(0.82,0.25)(1.18,0.255)
(1.78,0.6)(2.15,0.58)(1.94,0.57)(2.25,0.56)(1.85,0.55)(2.04,0.53)(2.2,0.52)(1.75,0.5)(2.08,0.48)(1.9,0.46)(2.24,0.21)(1.98,0.2)(2.12,0.22)};
\addplot[cG, ring] coordinates {(1,0.243)(2,0.195)};
\addplot[cR, ring] coordinates {(1,0.326)(2,0.223)};
\addplot[cB, ring] coordinates {(1,0.414)(2,0.514)};
\addplot[cO, ring] coordinates {(1,0.55)(2,0.514)};
\addplot[cBr, ring] coordinates {(1,0.776)(2,0.979)};
\addplot[cP, ring] coordinates {(1,0.945)(2,0.969)};
\addplot[cPk, ring] coordinates {(1,0.979)(2,0.969)};
\Star{cBr}{1.5}{1.045}
\SecL{1.5}{0.18}{Inference}
\end{axis}

%% ---------------- x ----------------
\begin{axis}[pan, at={(352pt,-788pt)}, width=78pt, height=115pt,
  xmin=0.1, xmax=2.9, ymin=-0.2, ymax=0.7, ytick={-0.2,0,0.2,0.4,0.6},
  xtick={1,2}, xticklabels={Absent,Present}, ylabel={Parallelism Score}]
\addplot[nt] coordinates {
(0.78,0.45)(1.15,0.42)(0.94,0.38)(1.25,0.33)(0.85,0.28)(1.04,0.24)(1.2,0.2)(0.75,0.16)(1.08,0.12)(0.9,0.08)(1.24,0.04)(0.98,0.0)(1.12,-0.04)(0.82,0.3)(1.18,0.1)
(1.78,0.5)(2.15,0.46)(1.94,0.42)(2.25,0.36)(1.85,0.3)(2.04,0.25)(2.2,0.2)(1.75,0.15)(2.08,0.1)(1.9,0.06)(2.24,0.02)(1.98,0.18)(2.12,0.08)};
\addplot[cG, tri] coordinates {(1,-0.137)(2,0.085)};
\addplot[cO, tri] coordinates {(1,0.14)(2,0.098)};
\addplot[cR, tri] coordinates {(1,0.163)(2,0.059)};
\addplot[cB, tri] coordinates {(1,0.124)(2,0.19)};
\addplot[cBr, tri] coordinates {(1,0.006)(2,0.451)};
\addplot[cP, tri] coordinates {(1,0.626)(2,0.372)};
\addplot[cPk, tri] coordinates {(1,0.668)(2,0.268)};
\Star{cBr}{1.5}{0.75}
\SecL{1.5}{-0.2}{Inference}
\end{axis}

%% ---------------- y ----------------
\begin{axis}[pan, tiny, at={(447pt,-788pt)}, width=79pt, height=114pt,
  xmin=0.05, xmax=4.0, ymin=0.4, ymax=1, ytick={0.4,0.5,0.6,0.7,0.8,0.9,1},
  xtick={1,2,3}, xticklabels={Absent,Present,Present}, ylabel={Decoding Accuracy}]
\Nb{0.65}{1.35}{0.4}{0.667}\Nb{1.65}{2.35}{0.4}{0.635}\Nb{2.65}{3.35}{0.4}{0.667}
\addplot[nc] coordinates {
(0.75,0.74)(1.2,0.73)(0.9,0.72)(1.3,0.7)(0.7,0.69)(1.05,0.68)(1.25,0.66)(0.8,0.64)(1.15,0.6)(0.95,0.58)(1.3,0.55)(0.7,0.5)(1.1,0.48)(0.85,0.63)
(1.75,0.73)(2.2,0.72)(1.9,0.71)(2.3,0.7)(1.7,0.69)(2.05,0.68)(2.25,0.67)(1.8,0.66)(2.15,0.64)(1.95,0.6)(2.3,0.55)(1.7,0.5)(2.1,0.48)(1.85,0.62)
(2.75,0.8)(3.2,0.79)(2.9,0.77)(3.3,0.75)(2.7,0.73)(3.05,0.71)(3.25,0.7)(2.8,0.68)(3.15,0.66)(2.95,0.63)(3.3,0.6)(2.7,0.57)(3.1,0.54)(2.85,0.5)(3.22,0.45)(2.78,0.42)};
\Sh{0.65}{1.35}{0.665}\Sh{1.65}{2.35}{0.67}\Sh{2.65}{3.35}{0.665}
\addplot[cG, ring] coordinates {(1,0.468)(2,0.486)(3,0.472)};
\addplot[cR, ring] coordinates {(1,0.547)(2,0.512)(3,0.626)};
\addplot[cB, ring] coordinates {(1,0.617)(2,0.674)(3,0.679)};
\addplot[cO, ring] coordinates {(1,0.714)(2,0.691)(3,0.56)};
\addplot[cP, ring] coordinates {(1,0.972)(2,0.963)(3,0.93)};
\addplot[cBr, ring] coordinates {(1,0.893)(2,0.968)(3,0.99)};
\addplot[cPk, ring] coordinates {(1,0.99)(2,0.963)(3,0.928)};
\Star{cBr}{2}{1.04}
\TinyL{1.3}{0.4}{Inference}\TinyL{3}{0.4}{(error)}
\end{axis}

%% ---------------- z ----------------
\begin{axis}[pan, small, at={(27pt,-988pt)}, width=53pt, height=123pt,
  xmin=0, xmax=3.53, ymin=-0.75, ymax=0.76, ytick={-0.6,-0.4,-0.2,0,0.2,0.4,0.6},
  xtick={1,2,3}, xticklabels={One,Two,Cross-}, ylabel={Parallelism Score}]
\Nb{0.7}{1.3}{-0.06}{0.39}\Nb{1.7}{2.3}{-0.06}{0.39}\Nb{2.7}{3.3}{0.09}{0.62}
\addplot[snt] coordinates {
(0.8,0.38)(1.15,0.34)(0.95,0.3)(1.22,0.26)(0.85,0.22)(1.05,0.18)(1.2,0.14)(0.78,0.1)(1.1,0.06)(0.9,0.02)(1.25,-0.02)(0.75,-0.05)(1.0,0.2)(1.12,0.08)
(1.8,0.36)(2.15,0.32)(1.95,0.28)(2.22,0.24)(1.85,0.2)(2.05,0.16)(2.2,0.12)(1.78,0.08)(2.1,0.04)(1.9,0.0)(2.25,-0.04)(1.75,0.14)(2.0,0.26)
(2.8,0.58)(3.15,0.54)(2.95,0.5)(3.22,0.45)(2.85,0.4)(3.05,0.36)(3.2,0.32)(2.78,0.28)(3.1,0.24)(2.9,0.2)(3.25,0.15)(2.75,0.1)(3.0,0.05)(3.12,0.42)};
\addplot[cB, stri] coordinates {(1,-0.2)(2,-0.2)(3,0.033)};
\addplot[cG, stri] coordinates {(1,-0.085)(2,-0.085)(3,0.127)};
\addplot[cO, stri] coordinates {(1,0.318)(2,0.31)(3,0.465)};
\addplot[cP, stri] coordinates {(1,0.352)(2,0.383)(3,0.535)};
\addplot[cR, stri] coordinates {(1,0.494)(2,0.494)(3,0.677)};
\SmL{1.5}{-0.75}{Half-Split}\SmL{3}{-0.75}{Half}
\end{axis}

%% ---------------- aa ----------------
\begin{axis}[pan, small, at={(137pt,-988pt)}, width=53pt, height=123pt,
  xmin=0.07, xmax=3.6, ymin=-0.75, ymax=0.76, ytick={-0.6,-0.4,-0.2,0,0.2,0.4,0.6},
  xtick={1,2,3}, xticklabels={One,Two,Cross-}, ylabel={Parallelism Score}]
\Nb{0.7}{1.3}{-0.11}{0.38}\Nb{1.7}{2.3}{-0.11}{0.38}\Nb{2.7}{3.3}{0.0}{0.6}
\addplot[snt] coordinates {
(0.8,0.35)(1.15,0.3)(0.95,0.26)(1.22,0.22)(0.85,0.18)(1.05,0.14)(1.2,0.1)(0.78,0.06)(1.1,0.02)(0.9,-0.02)(1.25,-0.06)(0.75,-0.1)(1.0,-0.15)(1.12,0.2)
(1.8,0.34)(2.15,0.3)(1.95,0.25)(2.22,0.21)(1.85,0.17)(2.05,0.13)(2.2,0.09)(1.78,0.05)(2.1,0.01)(1.9,-0.03)(2.25,-0.08)(1.75,-0.15)(2.0,0.15)
(2.8,0.6)(3.15,0.55)(2.95,0.5)(3.22,0.46)(2.85,0.42)(3.05,0.38)(3.2,0.34)(2.78,0.3)(3.1,0.26)(2.9,0.22)(3.25,0.18)(2.75,0.14)(3.0,0.1)(3.12,0.05)};
\addplot[cB, stri] coordinates {(1,-0.02)(2,-0.045)(3,0.119)};
\addplot[cP, stri] coordinates {(1,-0.025)(2,-0.025)(3,0.175)};
\addplot[cO, stri] coordinates {(1,0.094)(2,0.094)(3,0.29)};
\addplot[cG, stri] coordinates {(1,0.106)(2,0.106)(3,0.31)};
\addplot[cR, stri] coordinates {(1,0.44)(2,0.453)(3,0.677)};
\SmL{1.5}{-0.75}{Half-Split}\SmL{3}{-0.75}{Half}
\end{axis}

%% ---------------- ab ----------------
\begin{axis}[pan, small, at={(243pt,-988pt)}, width=53pt, height=123pt,
  xmin=0.07, xmax=3.6, ymin=-0.75, ymax=0.76, ytick={-0.6,-0.4,-0.2,0,0.2,0.4,0.6},
  xtick={1,2,3}, xticklabels={One,Two,Cross-}, ylabel={Parallelism Score}]
\Nb{0.7}{1.3}{-0.06}{0.36}\Nb{1.7}{2.3}{-0.06}{0.34}\Nb{2.7}{3.3}{0.1}{0.6}
\addplot[snt] coordinates {
(0.8,0.38)(1.15,0.33)(0.95,0.29)(1.22,0.25)(0.85,0.21)(1.05,0.17)(1.2,0.13)(0.78,0.09)(1.1,0.05)(0.9,0.01)(1.25,-0.03)(0.75,-0.07)(1.0,0.15)
(1.8,0.34)(2.15,0.3)(1.95,0.26)(2.22,0.22)(1.85,0.18)(2.05,0.14)(2.2,0.1)(1.78,0.06)(2.1,0.02)(1.9,-0.02)(2.25,-0.06)(1.75,0.2)
(2.8,0.57)(3.15,0.53)(2.95,0.49)(3.22,0.45)(2.85,0.41)(3.05,0.37)(3.2,0.33)(2.78,0.29)(3.1,0.25)(2.9,0.21)(3.25,0.17)(2.75,0.13)(3.0,0.1)};
\addplot[cG, stri] coordinates {(1,-0.2)(2,-0.18)(3,0.066)};
\addplot[cO, stri] coordinates {(1,-0.016)(2,-0.055)(3,0.147)};
\addplot[cR, stri] coordinates {(1,0.22)(2,0.235)(3,0.37)};
\addplot[cB, stri] coordinates {(1,0.216)(2,0.22)(3,0.413)};
\addplot[cP, stri] coordinates {(1,0.31)(2,0.318)(3,0.515)};
\SmL{1.5}{-0.75}{Half-Split}\SmL{3}{-0.75}{Half}
\end{axis}

%% ---------------- ac ----------------
\begin{axis}[pan, small, at={(352pt,-988pt)}, width=53pt, height=123pt,
  xmin=0.07, xmax=3.6, ymin=-0.75, ymax=0.76, ytick={-0.6,-0.4,-0.2,0,0.2,0.4,0.6},
  xtick={1,2,3}, xticklabels={One,Two,Cross-}, ylabel={Parallelism Score}]
\Nb{0.7}{1.3}{-0.1}{0.33}\Nb{1.7}{2.3}{-0.1}{0.33}\Nb{2.7}{3.3}{0.0}{0.57}
\addplot[snt] coordinates {
(0.8,0.32)(1.15,0.28)(0.95,0.24)(1.22,0.2)(0.85,0.16)(1.05,0.12)(1.2,0.08)(0.78,0.04)(1.1,0.0)(0.9,-0.04)(1.25,-0.08)(0.75,-0.22)(1.0,0.14)
(1.8,0.3)(2.15,0.26)(1.95,0.22)(2.22,0.18)(1.85,0.14)(2.05,0.1)(2.2,0.06)(1.78,0.02)(2.1,-0.02)(1.9,-0.06)(2.25,-0.1)(1.75,-0.22)
(2.8,0.58)(3.15,0.54)(2.95,0.5)(3.22,0.46)(2.85,0.42)(3.05,0.38)(3.2,0.34)(2.78,0.3)(3.1,0.26)(2.9,0.22)(3.25,0.15)(2.75,0.05)(3.0,0.1)};
\addplot[cR, stri] coordinates {(1,0.13)(2,0.13)(3,0.35)};
\addplot[cB, stri] coordinates {(1,0.135)(2,0.14)(3,0.35)};
\addplot[cP, stri] coordinates {(1,0.106)(2,0.106)(3,0.33)};
\addplot[cO, stri] coordinates {(1,0.188)(2,0.2)(3,0.413)};
\addplot[cG, stri] coordinates {(1,0.257)(2,0.26)(3,0.453)};
\SmL{1.5}{-0.75}{Half-Split}\SmL{3}{-0.75}{Half}
\end{axis}

%% ---------------- legend symbols (page-sized axis in pixel units) ----------------
\begin{axis}[at={(0pt,-1005pt)}, anchor=south west, scale only axis, width=760pt, height=1005pt,
  xmin=0, xmax=760, ymin=-1005, ymax=0, hide axis, clip=false]
\addplot[nc, mark size=2.6pt] coordinates {(673,-91.7)};
\addplot[nd, mark size=2.6pt] coordinates {(673,-99.3)};
\addplot[nt, mark size=4pt] coordinates {(673,-107)};
\addplot[nbox] coordinates {(667,-112)(679,-112)(679,-124)(667,-124)};
\addplot[black, line width=1.3pt] coordinates {(667,-137)(680,-137)};
\addplot[only marks, mark=*, mark size=3.6pt, mark options={draw=ngray, fill=white, line width=1.4pt}] coordinates {(555,-743.3)};
\addplot[only marks, mark=*, mark size=3.6pt, mark options={draw=ngray!70, fill=dgray!80, line width=1.2pt}] coordinates {(555,-755)};
\addplot[nt, mark size=6pt] coordinates {(555,-766.5)};
\addplot[nbox] coordinates {(548,-777)(561,-777)(561,-792)(548,-792)};
\addplot[black, line width=1.5pt] coordinates {(549,-813.3)(561,-813.3)};
\addplot[snt, mark size=3.4pt] coordinates {(437.5,-912)};
\addplot[nbox] coordinates {(433,-917)(442,-917)(442,-927)(433,-927)};
\end{axis}

%% ---------------- rules, panel letters, titles, legend text ----------------
\draw[black, line width=3pt] (7pt,-329pt) -- (752pt,-329pt);
\draw[black, line width=3pt] (2pt,-632pt) -- (667pt,-632pt);
\draw[black, line width=3pt] (0pt,-842pt) -- (665pt,-842pt);
\foreach \l/\x/\y in {a/6/15, c/221.7/15, d/323.3/15, e/424.5/15, f/531.7/15,
  b/5/183.3, g/221.7/186, h/337.7/183.3, i/426/183.3, j/549/183.3,
  k/5/356.7, l/222.7/363, m/328/364, n/421.7/364, o/554/368,
  p/5/506.7, q/112/506.7, r/231.7/506.7, s/338/506.7, t/425/512,
  u/12.7/672.7, v/122.7/672.7, w/225/672.7, x/336/672.7, y/430/674,
  z/12.7/861.7, aa/111.7/861.7, ab/214/861.7, ac/322.7/861.7}
  {\node[anchor=base west, inner sep=0pt, font=\bfseries\fontsize{19}{19}\selectfont] at (\x pt,-\y pt) {\l};}
\foreach \x/\y/\t in {72/655/VTC, 178/655/VTC, 285/655/VTC, 392/655/VTC, 485/655/VTC,
  55/857/HPC, 166/857/HPC, 272/857/HPC, 380/857/HPC}
  {\node[font=\fontsize{7}{7}\selectfont, text=lbgray] at (\x pt,-\y pt) {\t};}
\foreach \y/\c/\t in {45/cR/context, 54.3/cB/outcome, 62.3/cG/response, 70.7/cP/stim pair, 80/cO/parity}
  {\node[anchor=west, inner sep=0pt, text=\c, font=\bfseries\fontsize{11}{11}\selectfont] at (669pt,-\y pt) {\t};}
\foreach \y/\t in {91.7/Decoding Accuracy, 99.3/CCGP, 107.7/Parallelism Score, 117.7/Null Distribution,
  127.3/(5\textsuperscript{th} - 95th pctle), 136.7/Shattering, 145.5/Dimensionality}
  {\node[anchor=west, inner sep=0pt, text=black!85, font=\fontsize{8.5}{8.5}\selectfont] at (683pt,-\y pt) {\t};}
\foreach \y/\c/\t in {643.3/cR/context, 656.7/cB/outcome, 669.3/cG/response, 684.3/cP/AC vs BD (stim pair),
  698.3/cO/parity, 714.3/cBr/AB vs CD, 728.3/cPk/AD vs BC}
  {\node[anchor=west, inner sep=0pt, text=\c, font=\bfseries\fontsize{15.5}{15.5}\selectfont] at (548pt,-\y pt) {\t};}
\foreach \y/\t in {743.3/Decoding Accuracy, 755/CCGP, 767.3/Parallelism Score, 783.3/Null Distribution,
  800/(5\textsuperscript{th} - 95th pctle), 813.3/Shattering, 829/Dimensionality}
  {\node[anchor=west, inner sep=0pt, text=black!85, font=\fontsize{12}{12}\selectfont] at (562.5pt,-\y pt) {\t};}
\foreach \y/\c/\t in {867.3/cR/context, 875.7/cB/outcome, 883.3/cG/response, 891.7/cP/stim pair, 900.7/cO/parity}
  {\node[anchor=west, inner sep=0pt, text=\c, font=\bfseries\fontsize{10.5}{10.5}\selectfont] at (434pt,-\y pt) {\t};}
\foreach \y/\t in {912.7/Parallelism Score, 922.3/Null Distribution, 932.3/(5\textsuperscript{th} - 95th pctle)}
  {\node[anchor=west, inner sep=0pt, text=black!85, font=\fontsize{8.5}{8.5}\selectfont] at (445.7pt,-\y pt) {\t};}
\end{tikzpicture}
\end{document}
